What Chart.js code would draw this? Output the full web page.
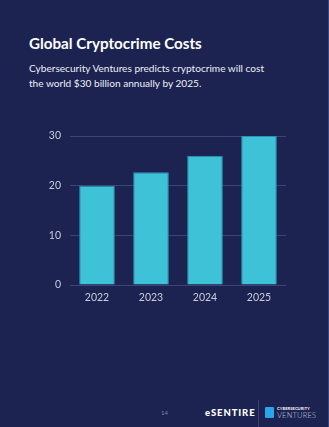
<!DOCTYPE html>
<html><head><meta charset="utf-8">
<script src="https://cdn.jsdelivr.net/npm/chart.js@4/dist/chart.umd.min.js"></script>
<style>
html,body{margin:0;padding:0;}
body{width:329px;height:427px;background:#1c2351;position:relative;overflow:hidden;font-family:Lato,"Open Sans",sans-serif;}
#edge{position:absolute;right:0;top:0;width:1px;height:427px;background:#3a4682;}
#title{position:absolute;left:29px;top:34px;color:#fff;font-weight:700;font-size:15.2px;letter-spacing:0;white-space:nowrap;}
#sub{position:absolute;left:29px;top:61px;color:#eef0f7;font-size:10.1px;line-height:14.5px;white-space:nowrap;}
#wrap{position:absolute;left:0;top:110px;width:329px;height:200px;}
#pg{position:absolute;left:161px;top:409px;color:#7d84a8;font-size:6px;}
#es{position:absolute;left:205px;top:407px;color:#fff;font-weight:900;font-size:9.5px;letter-spacing:0.9px;}
#sep{position:absolute;left:258px;top:400px;width:1px;height:27px;background:#39427a;}
#icon{position:absolute;left:265px;top:407px;width:9px;height:11px;background:#2aa6e8;border-radius:1px;}
#cv1{position:absolute;left:277px;top:406px;color:#fff;font-size:4px;font-weight:700;letter-spacing:0.1px;}
#cv2{position:absolute;left:277px;top:411px;color:#c9cde0;font-size:7.5px;font-weight:300;letter-spacing:0.2px;}
</style></head>
<body>
<div id="edge"></div>
<div id="title">Global Cryptocrime Costs</div>
<div id="sub">Cybersecurity Ventures predicts cryptocrime will cost<br>the world $30 billion annually by 2025.</div>
<div id="wrap"><canvas id="c" width="329" height="200"></canvas></div>
<div id="pg">14</div>
<div id="es">eSENTIRE</div>
<div id="sep"></div>
<div id="icon"></div>
<div id="cv1">CYBERSECURITY</div>
<div id="cv2">VENTURES</div>
<script>
const categories = ["2022", "2023", "2024", "2025"];
const costs = [20, 22.7, 26, 30];
const yTicks = [0, 10, 20, 30];

new Chart(document.getElementById('c'), {
  type: 'bar',
  data: {
    labels: categories,
    datasets: [{
      data: costs,
      backgroundColor: '#3ec2d8',
      borderColor: '#2c93b0',
      borderWidth: 1,
      borderSkipped: 'bottom',
      barPercentage: 0.66,
      categoryPercentage: 1
    }]
  },
  options: {
    responsive: false,
    animation: false,
    devicePixelRatio: 1,
    layout: { padding: { left: 0, right: 43, top: 26, bottom: 0 } },
    plugins: { legend: { display: false }, tooltip: { enabled: false } },
    scales: {
      x: {
        grid: { display: false, drawTicks: false },
        border: { display: false },
        ticks: { color: '#c9cce0', font: { family: 'Lato', size: 10.5 }, padding: 6 },
        afterFit: s => { s.height = 25; }
      },
      y: {
        min: 0, max: 30,
        afterBuildTicks: s => { s.ticks = yTicks.map(v => ({ value: v })); },
        grid: { color: '#3b4474', lineWidth: 1, drawTicks: false },
        border: { display: false },
        ticks: { color: '#c9cce0', font: { family: 'Lato', size: 10.5 }, padding: 9 },
        afterFit: s => { s.width = 70; }
      }
    }
  }
});
</script>
</body></html>
